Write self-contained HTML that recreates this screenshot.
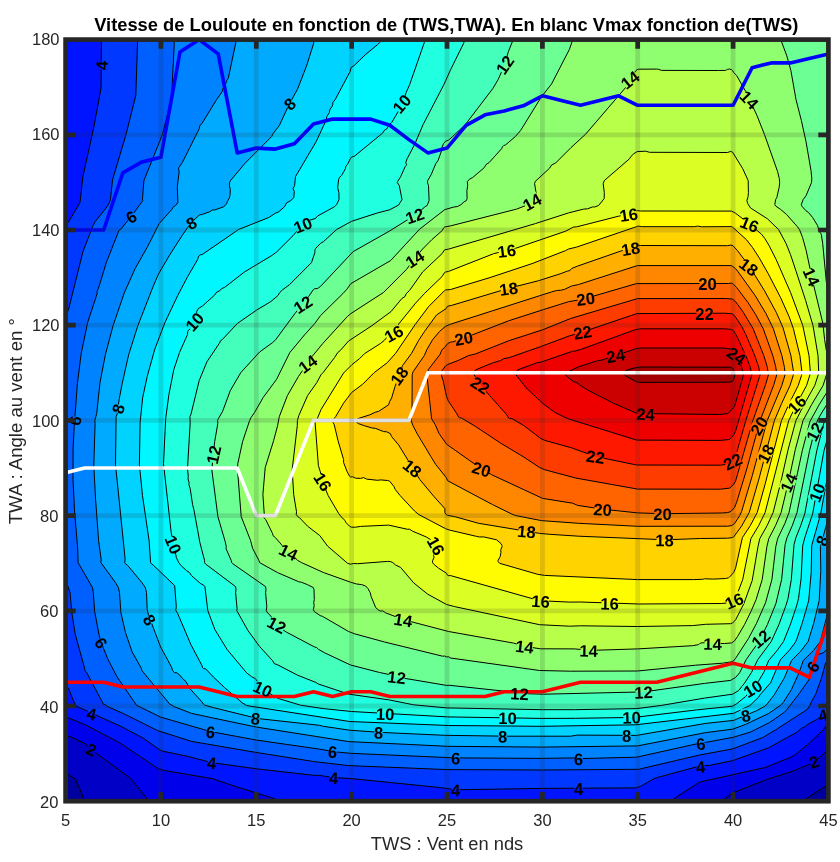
<!DOCTYPE html><html><head><meta charset="utf-8"><style>html,body{margin:0;padding:0;background:#fff}svg{display:block;will-change:transform}text{font-family:"Liberation Sans",Arial,sans-serif}</style></head><body>
<svg width="840" height="862" viewBox="0 0 840 862">
<defs><clipPath id="c"><rect x="65.6" y="39.6" width="762.8" height="761.6"/></clipPath>
<mask id="m" maskUnits="userSpaceOnUse" x="0" y="0" width="840" height="862"><rect width="840" height="862" fill="#fff"/><g fill="#000"><rect x="-4" y="-7" width="8.1" height="13.9" transform="translate(101.3 65.6) rotate(-89.7)"/><rect x="-4" y="-7" width="8.1" height="13.9" transform="translate(289.5 103.6) rotate(-43.2)"/><rect x="-8.1" y="-7" width="16.2" height="13.9" transform="translate(401.5 103.6) rotate(-49.2)"/><rect x="-8.1" y="-7" width="16.2" height="13.9" transform="translate(504.6 64.5) rotate(-54.7)"/><rect x="-8.1" y="-7" width="16.2" height="13.9" transform="translate(629.9 79.6) rotate(-38.2)"/><rect x="-8.1" y="-7" width="16.2" height="13.9" transform="translate(749.6 99.5) rotate(46.3)"/><rect x="-4" y="-7" width="8.1" height="13.9" transform="translate(131.1 216.6) rotate(-32.1)"/><rect x="-4" y="-7" width="8.1" height="13.9" transform="translate(191.2 222.6) rotate(-29.1)"/><rect x="-8.1" y="-7" width="16.2" height="13.9" transform="translate(302.6 224.7) rotate(-22)"/><rect x="-8.1" y="-7" width="16.2" height="13.9" transform="translate(414.6 215.4) rotate(-19.1)"/><rect x="-8.1" y="-7" width="16.2" height="13.9" transform="translate(531.8 201.6) rotate(-28.4)"/><rect x="-8.1" y="-7" width="16.2" height="13.9" transform="translate(628.6 214.3) rotate(-8.4)"/><rect x="-8.1" y="-7" width="16.2" height="13.9" transform="translate(749.6 223.9) rotate(21.7)"/><rect x="-8.1" y="-7" width="16.2" height="13.9" transform="translate(414.6 258.6) rotate(-32.8)"/><rect x="-8.1" y="-7" width="16.2" height="13.9" transform="translate(506.6 250.4) rotate(-7.1)"/><rect x="-8.1" y="-7" width="16.2" height="13.9" transform="translate(630.6 248.4) rotate(-9.7)"/><rect x="-8.1" y="-7" width="16.2" height="13.9" transform="translate(749.1 266.6) rotate(36.3)"/><rect x="-8.1" y="-7" width="16.2" height="13.9" transform="translate(707.6 283.3) rotate(0)"/><rect x="-8.1" y="-7" width="16.2" height="13.9" transform="translate(811.8 276.6) rotate(66.1)"/><rect x="-8.1" y="-7" width="16.2" height="13.9" transform="translate(508.6 288.3) rotate(-7.9)"/><rect x="-8.1" y="-7" width="16.2" height="13.9" transform="translate(585.6 298.5) rotate(-7.4)"/><rect x="-8.1" y="-7" width="16.2" height="13.9" transform="translate(704.6 313.2) rotate(-0)"/><rect x="-8.1" y="-7" width="16.2" height="13.9" transform="translate(194.2 321.6) rotate(-48.6)"/><rect x="-8.1" y="-7" width="16.2" height="13.9" transform="translate(302.6 304.1) rotate(-32.2)"/><rect x="-8.1" y="-7" width="16.2" height="13.9" transform="translate(393.6 333.3) rotate(-28.9)"/><rect x="-8.1" y="-7" width="16.2" height="13.9" transform="translate(463.6 338) rotate(-10.1)"/><rect x="-8.1" y="-7" width="16.2" height="13.9" transform="translate(582.6 332) rotate(-8.9)"/><rect x="-8.1" y="-7" width="16.2" height="13.9" transform="translate(615.6 355.3) rotate(-9.4)"/><rect x="-8.1" y="-7" width="16.2" height="13.9" transform="translate(736.7 355.6) rotate(35.2)"/><rect x="-8.1" y="-7" width="16.2" height="13.9" transform="translate(307.4 363.6) rotate(-35.8)"/><rect x="-8.1" y="-7" width="16.2" height="13.9" transform="translate(398.9 375.6) rotate(-53.9)"/><rect x="-8.1" y="-7" width="16.2" height="13.9" transform="translate(480.6 384.9) rotate(33.2)"/><rect x="-4" y="-7" width="8.1" height="13.9" transform="translate(117.8 408.6) rotate(-72.5)"/><rect x="-8.1" y="-7" width="16.2" height="13.9" transform="translate(796.6 404.1) rotate(-44.5)"/><rect x="-8.1" y="-7" width="16.2" height="13.9" transform="translate(758.7 425.6) rotate(-59.2)"/><rect x="-4" y="-7" width="8.1" height="13.9" transform="translate(74.7 420.6) rotate(-80.6)"/><rect x="-8.1" y="-7" width="16.2" height="13.9" transform="translate(645.6 413.8) rotate(2.1)"/><rect x="-8.1" y="-7" width="16.2" height="13.9" transform="translate(213.3 454.6) rotate(-77.4)"/><rect x="-8.1" y="-7" width="16.2" height="13.9" transform="translate(412.6 468) rotate(39.1)"/><rect x="-8.1" y="-7" width="16.2" height="13.9" transform="translate(323.2 481.6) rotate(57.4)"/><rect x="-8.1" y="-7" width="16.2" height="13.9" transform="translate(595.6 456.5) rotate(7.9)"/><rect x="-8.1" y="-7" width="16.2" height="13.9" transform="translate(481.6 469) rotate(17.5)"/><rect x="-8.1" y="-7" width="16.2" height="13.9" transform="translate(732.6 461.1) rotate(-25.7)"/><rect x="-8.1" y="-7" width="16.2" height="13.9" transform="translate(765.5 453.6) rotate(-62.7)"/><rect x="-8.1" y="-7" width="16.2" height="13.9" transform="translate(814.4 431.6) rotate(-62.4)"/><rect x="-8.1" y="-7" width="16.2" height="13.9" transform="translate(788.3 482.6) rotate(-65.6)"/><rect x="-8.1" y="-7" width="16.2" height="13.9" transform="translate(816.8 492.6) rotate(-69.8)"/><rect x="-8.1" y="-7" width="16.2" height="13.9" transform="translate(173.7 544.6) rotate(67.3)"/><rect x="-8.1" y="-7" width="16.2" height="13.9" transform="translate(288.6 551.7) rotate(26.1)"/><rect x="-8.1" y="-7" width="16.2" height="13.9" transform="translate(436.4 545.6) rotate(60.5)"/><rect x="-8.1" y="-7" width="16.2" height="13.9" transform="translate(602.6 509.2) rotate(3.8)"/><rect x="-8.1" y="-7" width="16.2" height="13.9" transform="translate(662.6 513.7) rotate(0.2)"/><rect x="-8.1" y="-7" width="16.2" height="13.9" transform="translate(526.6 531.2) rotate(4.8)"/><rect x="-8.1" y="-7" width="16.2" height="13.9" transform="translate(664.6 539.8) rotate(0.3)"/><rect x="-4" y="-7" width="8.1" height="13.9" transform="translate(821.8 540.6) rotate(-64)"/><rect x="-4" y="-7" width="8.1" height="13.9" transform="translate(150 619.6) rotate(55.2)"/><rect x="-8.1" y="-7" width="16.2" height="13.9" transform="translate(276.9 624.6) rotate(27.5)"/><rect x="-8.1" y="-7" width="16.2" height="13.9" transform="translate(403.2 619.6) rotate(9.1)"/><rect x="-8.1" y="-7" width="16.2" height="13.9" transform="translate(540.6 600.9) rotate(3.8)"/><rect x="-8.1" y="-7" width="16.2" height="13.9" transform="translate(609.6 603.2) rotate(1)"/><rect x="-8.1" y="-7" width="16.2" height="13.9" transform="translate(733.9 600.6) rotate(-23.1)"/><rect x="-4" y="-7" width="8.1" height="13.9" transform="translate(101.3 642.6) rotate(55.6)"/><rect x="-8.1" y="-7" width="16.2" height="13.9" transform="translate(524.6 646.4) rotate(6.5)"/><rect x="-8.1" y="-7" width="16.2" height="13.9" transform="translate(588.6 650.3) rotate(1.1)"/><rect x="-8.1" y="-7" width="16.2" height="13.9" transform="translate(712.6 643.5) rotate(0.8)"/><rect x="-8.1" y="-7" width="16.2" height="13.9" transform="translate(760.5 638.6) rotate(-41.5)"/><rect x="-8.1" y="-7" width="16.2" height="13.9" transform="translate(396.6 676.9) rotate(6.4)"/><rect x="-8.1" y="-7" width="16.2" height="13.9" transform="translate(519.6 693.4) rotate(2.7)"/><rect x="-8.1" y="-7" width="16.2" height="13.9" transform="translate(643.6 691.9) rotate(-2.2)"/><rect x="-8.1" y="-7" width="16.2" height="13.9" transform="translate(262.9 688.6) rotate(25.6)"/><rect x="-8.1" y="-7" width="16.2" height="13.9" transform="translate(752.6 688.2) rotate(-31.5)"/><rect x="-4" y="-7" width="8.1" height="13.9" transform="translate(812.6 666.5) rotate(-59)"/><rect x="-8.1" y="-7" width="16.2" height="13.9" transform="translate(385.2 713.6) rotate(1.7)"/><rect x="-8.1" y="-7" width="16.2" height="13.9" transform="translate(507.6 717.7) rotate(0.5)"/><rect x="-8.1" y="-7" width="16.2" height="13.9" transform="translate(631.6 717.2) rotate(-1.6)"/><rect x="-4" y="-7" width="8.1" height="13.9" transform="translate(255.6 718) rotate(6.1)"/><rect x="-4" y="-7" width="8.1" height="13.9" transform="translate(378.6 732.3) rotate(1.8)"/><rect x="-4" y="-7" width="8.1" height="13.9" transform="translate(502.6 736.2) rotate(0.3)"/><rect x="-4" y="-7" width="8.1" height="13.9" transform="translate(626.6 735.4) rotate(-0)"/><rect x="-4" y="-7" width="8.1" height="13.9" transform="translate(745.6 715.3) rotate(-12)"/><rect x="-4" y="-7" width="8.1" height="13.9" transform="translate(91.6 713.4) rotate(12.8)"/><rect x="-4" y="-7" width="8.1" height="13.9" transform="translate(210.5 731.6) rotate(6.8)"/><rect x="-4" y="-7" width="8.1" height="13.9" transform="translate(332.6 751.5) rotate(4.4)"/><rect x="-4" y="-7" width="8.1" height="13.9" transform="translate(455.6 757.9) rotate(0.5)"/><rect x="-4" y="-7" width="8.1" height="13.9" transform="translate(578.6 758.6) rotate(1.1)"/><rect x="-4" y="-7" width="8.1" height="13.9" transform="translate(700.6 743.3) rotate(-5.6)"/><rect x="-4" y="-7" width="8.1" height="13.9" transform="translate(822.6 714.9) rotate(-15.7)"/><rect x="-4" y="-7" width="8.1" height="13.9" transform="translate(91.6 749.1) rotate(23.1)"/><rect x="-4" y="-7" width="8.1" height="13.9" transform="translate(211.6 762.6) rotate(5.5)"/><rect x="-4" y="-7" width="8.1" height="13.9" transform="translate(333.6 777.5) rotate(2.9)"/><rect x="-4" y="-7" width="8.1" height="13.9" transform="translate(455.6 789.8) rotate(2.1)"/><rect x="-4" y="-7" width="8.1" height="13.9" transform="translate(578.6 788.4) rotate(-0)"/><rect x="-4" y="-7" width="8.1" height="13.9" transform="translate(700.6 766.4) rotate(-5)"/><rect x="-4" y="-7" width="8.1" height="13.9" transform="translate(813.9 761.6) rotate(-18.1)"/></g></mask></defs>
<rect width="840" height="862" fill="#fff"/>
<g clip-path="url(#c)">
<g stroke="none">
<path fill="#00009f" fill-rule="evenodd" d="M62.599999999999994 36.6 H831.4 V804.2 H62.599999999999994Z"/>
<path fill="#0000c7" fill-rule="evenodd" d="M64.6 38.6 828.6 38.6 828.6 785.6 824.6 786.8 809.2 796.6 805.6 799.4 805.2 801.6 83.9 801.6 83.6 798.6 82.2 794.6 75.6 779.3 68.1 774.6 64.6 774.6Z"/>
<path fill="#0000eb" fill-rule="evenodd" d="M64.6 38.6 828.6 38.6 828.6 751.2 825.6 752 816.6 760 811.6 763.4 792.6 771.2 766.4 779.6 733.3 792.6 724.6 798.6 723.6 799.6 723.4 801.6 147.4 801.6 147.2 799.6 146.2 797.6 130.8 778.6 97.6 754.2 85 743.6 69.9 736.6 67.6 735.9 64.6 735.8Z"/>
<path fill="#0014ff" fill-rule="evenodd" d="M64.6 38.6 828.6 38.6 828.6 726.1 825.6 726.4 823.6 729.4 808.6 743.9 794.6 755 790.6 757.3 765.6 767.4 699.6 782.1 674 798.6 673.1 799.6 672.7 801.6 277 801.6 276.2 799.6 271.4 797.6 237.6 787.2 212.2 778.6 163.6 770.4 160.6 769.1 158.6 769 119.4 742.6 84.9 724.6 68.6 718 64.6 717.5Z"/>
<path fill="#0038ff" fill-rule="evenodd" d="M101.4 38.6 828.6 38.6 828.6 712.7 826.6 713 822.6 714.9 816.7 719.6 807.6 724.4 804.6 726.9 802.4 727.6 796.2 732.6 768.6 747.8 732.6 760.6 709.6 765.4 702.6 765.6 700.6 766.4 698.6 766.3 656.6 777.7 653.6 778.9 640.6 786.3 635.6 787.9 541.6 788.4 456.6 789.8 442.6 787.8 351.6 778.6 332.6 777.4 322.6 775.9 320.6 775.2 314.6 775.4 294.6 773.2 257.6 769 210.6 762.4 187.6 756.3 160.9 750.6 143.9 738.6 121.6 726.7 85.4 710.6 75.8 705.6 68.6 688.5 66.6 686.4 64.6 686.5 64.6 224 66.9 223.6 68.6 221.8 80 202.6 82.9 176.6 93.6 128.4 101.1 87.6Z"/>
<path fill="#0060ff" fill-rule="evenodd" d="M136 38.6 828.6 38.6 828.6 662.2 825.6 662.9 821.3 678.6 815.6 694.4 811.4 701.6 809.9 705.6 807 709.6 775.6 729.9 762.6 737.6 734.6 748.2 699.6 755 637.6 769.5 541.6 770 448.6 769.6 347.6 765.5 313.6 761.5 254.6 752.2 191.6 741.4 157.6 730.6 124.6 714.1 107.7 706.6 104.9 704.6 103.6 704.4 86.7 672.6 84.9 670.6 84.7 668.6 75.1 633.6 71.7 611.6 70.1 592.6 67.6 585.6 66.6 584.7 64.6 584.7 64.6 313.5 67.2 312.6 68.6 309.4 83 251.6 92.6 226.6 95.2 221.6 107.2 206.6 109.4 202.6 110.4 199.6 112.6 179.6 126 134.6 135.8 95.6 137.6 41.6 137.6 40.6Z"/>
<path fill="#0083ff" fill-rule="evenodd" d="M174.1 38.6 828.6 38.6 828.6 647.5 823.6 652.6 817.6 654.8 812.6 666.5 809.6 678.8 799.2 693.6 785.2 711.6 769.6 722.5 752.6 731.1 746.6 733.2 732.6 737.4 706.6 742.2 703.6 742.3 637.6 757.1 579.6 758.6 573.6 757.9 541.6 758.4 456.6 757.9 348.6 753.2 333.6 751.7 318.6 749 256.6 740.1 210.5 731.6 162.6 717.8 157.1 715.6 135.8 704.6 121.3 683.6 115.8 674.6 108.5 660.6 103.6 648.6 99.2 635.6 94.9 612.6 93.2 591.6 92.5 587.6 78.1 562.6 77.7 548.6 74.6 511.9 73 479.6 73.1 448.6 74.2 426.6 77.4 383.6 81.2 353.6 87.6 322.6 96.2 296.6 97.1 293.6 97 291.6 99 286.6 106.3 262.6 118.9 230.6 121.3 228.6 131.9 215.6 142.8 200.6 142.5 198.6 143.9 180.6 162.4 134.6 171.5 98.6 174.2 45.6Z"/>
<path fill="#00abff" fill-rule="evenodd" d="M236.5 39.6 236.7 38.6 828.6 38.6 828.6 609.4 820.3 641.6 813.4 650.6 803.2 660.6 799.1 672.6 791.4 689.6 783.6 702.1 781.4 704.6 768.6 713.5 745.6 724.4 732.6 729.2 705.6 732.6 637.6 745.9 541.6 747.1 447.6 746.3 348.6 741.6 252.6 726.3 191.6 713.4 174.2 706.6 170.6 704.7 168.6 702.9 153.2 684.6 144.1 672.6 141.9 670.6 141.5 668.6 131.6 650.8 125.5 632.6 120.9 612.6 119.5 592.6 118.4 587.6 115.5 582.6 100.9 562.6 101.2 559.6 98.6 540.6 95.6 499.5 93.8 465.6 95.1 423.6 94.8 420.6 96.7 413.6 100 382.6 105.4 354.6 113.1 325.6 124.4 292.6 135.1 268.6 147.6 246.6 159.2 223.6 171.7 209.6 173.6 206.6 175.6 205.5 177.9 202.6 177.3 186.6 179.2 171.6 178.6 169.6 178.8 167.6 182.3 162.6 199.3 128.6 199.8 125.6 201.9 123.6 216.6 99.6 222.3 91.6 222.5 89.6 226.7 81.6 226.6 80.6 228.2 78.6Z"/>
<path fill="#00d3ff" fill-rule="evenodd" d="M314.1 38.6 828.6 38.6 828.6 516.9 820.4 546.6 820.8 570.6 819.2 600.6 814.1 621.6 808.8 639.6 807.5 642.6 801.3 650.6 791.5 660.6 785 676.6 776.9 690.6 769.5 701.6 764.2 706.6 748.6 714.4 733.6 720.4 705.6 723.4 637.6 735.4 577.6 735.1 570.6 736.2 502.6 736.2 444.6 735.3 379.6 732.4 348.6 730.1 322.6 726.2 319.6 725.3 257.6 718.5 209.5 706.6 204.6 705.1 203.6 704.3 201.7 701.6 189.6 688.3 187.4 683.6 185.6 681.2 182.6 678.6 179.6 674.9 176.6 672.7 174.6 672.7 173.3 671.6 171.3 666.6 160.9 647.6 149.6 618.4 147.3 610.6 146.5 592.6 145.3 587.6 141.9 582.6 127.6 565.3 125.6 563.9 124.8 562.6 125.1 558.6 115.5 463.6 116.1 416.6 117 414.6 119.4 397.6 125.6 368.3 128.7 354.6 137.9 325.6 152.7 287.6 158.7 273.6 169.6 255.1 182.6 234.8 191.2 222.6 199.6 214.8 201.6 214.6 209.6 211.8 212.6 209.9 214.6 210 223.6 206.8 226.9 203.6 227.2 201.6 229.1 198.6 230 195.6 230.3 189.6 229.4 185.6 229.6 182.6 230.5 180.6 244.7 163.6 271.6 136.6 273.1 133.6 279.3 125.6 289 104.6 297.6 89 306.6 65.8 313.6 43.6Z"/>
<path fill="#00f7ff" fill-rule="evenodd" d="M381.6 38.6 828.6 38.6 828.6 470.8 820.5 514.6 811.7 545.6 811.2 571.6 808.8 599.6 800.2 629.6 795.2 642.6 788.3 651.6 779.9 660.6 770.6 682.8 760.2 694.6 758.2 697.6 751.1 704.6 748.6 706.3 732.6 713.6 636.6 724.7 541.6 726.3 448.6 725.5 349.6 721.5 246.8 705.6 243.3 703.6 235.9 697.6 220.6 684 205.6 668.8 203.6 668.6 202.6 667.6 202 665.6 190.9 644.6 177.3 612.6 175.8 610.6 176.3 606.6 174.7 585.6 153.6 565.4 151.6 564 150.6 562.6 149.1 540.6 142.5 495.6 139.4 464.6 140.1 422.6 142.7 397.6 147.2 376.6 154.6 349.8 164.9 322.6 177.7 295.6 187.6 276.7 197.6 259.6 198.6 256.3 200.6 254.8 202.6 254.3 238.6 229.5 268.6 217.6 275.6 213.1 278.6 211.9 284.7 206.6 286.6 202.8 290.6 200.8 293.8 197.6 294.3 191.6 293.1 188.6 294.6 185.6 295.5 176.6 316.2 141.6 326.4 119.6 326.8 116.6 329.4 112.6 329.8 109.6 332 106.6 332.8 104.6 332.8 102.6 335.2 99.6 350.1 71.6 351.1 67.6 354.1 65.6 365.6 54.5 377.6 44.6 380.7 41.6Z"/>
<path fill="#20ffdf" fill-rule="evenodd" d="M425 38.6 828.6 38.6 828.6 434.4 824 450.6 812.7 513.6 804.8 537.6 802.7 545.6 801.1 578.6 798.5 598.6 796.6 605.8 790.7 623.6 783.5 641.6 777 650.6 768.6 660.6 764.2 671.6 758.3 681.6 745.5 696.6 736.6 703.8 732.6 706.2 696.6 709.9 638.6 716.9 622.6 717.6 542.6 718.4 447.6 716.9 385.2 713.6 342.2 710.6 323.4 708.6 297.6 704.6 275.6 697.2 264 689.6 255.3 678.6 251.6 676.7 245.6 671.7 227.9 650.6 214.9 629.6 208.8 613.6 207.7 609.6 204.9 586.6 203.6 585.1 200.6 583.6 191.5 575.6 189.6 572.6 186.6 570.7 181.1 565.6 178.6 562.3 176.7 558.6 171.2 532.6 163.6 465.6 165.6 419.6 168.9 394.6 173.8 369.6 179.6 352.3 187.5 334.6 187.7 331.6 188.6 330.1 190.6 328.6 195.5 318.6 197 310.6 198.6 308.3 202.6 305.9 214.6 295.1 216.6 292.2 219.6 290.9 221.6 288.6 224.6 287.4 245.1 271.6 272.6 255 276.6 252 293.1 235.6 302.6 224.7 306.6 221 307.6 220.3 309.6 220.3 315.6 218.4 317.6 216 325.6 211.9 335.8 205.6 339 199.6 338.9 192.6 337.7 187.6 338.6 179.6 339.6 177.3 341.6 175.5 345.5 168.6 345.7 166.6 347.4 164.6 350.4 158.6 351.6 157.1 354.6 156.1 382.6 133.1 384.6 130.1 386.6 129.1 389.6 124.4 391.7 122.6 400.6 107.5 401.5 105.6 401.5 103.6 403 101.6 406.1 92.6 409.6 84.8 424.3 42.6Z"/>
<path fill="#44ffbb" fill-rule="evenodd" d="M464.3 38.6 828.6 38.6 828.6 414.4 826.6 416.9 824.2 421.6 816.8 450.6 804.8 513.6 800.7 525.6 795.9 537.6 794 544.6 791.3 579.6 788 598.6 785.9 605.6 778.9 624.6 771.2 641.6 757.8 659.6 751.4 672.6 744.2 683.6 738.6 690.6 732.6 694.2 704.6 698.1 661.6 705.4 637.6 708.6 574.6 709.7 543.6 709.7 446.6 707.9 413.6 704.8 388.6 699.8 348.6 694.1 318.6 684.1 315.6 682.3 297.6 675.2 277.6 664.8 274.6 663.8 272.6 660.7 259.6 646.5 248.7 631.6 237.3 611.6 236.8 610.6 237.1 608.6 235.6 592.6 236 589.6 235.6 586.6 205.6 564 204.6 562.6 204.6 560.6 199.9 542.6 193.9 509.6 192.6 504.6 190.2 488.6 188.9 484.6 189 481.6 188 478.6 188.3 476.6 187.5 467.6 190.2 422.6 189.9 416.6 190.9 414.6 199.5 379.6 206.6 362.4 219.2 343.6 219.8 341.6 222.3 339.6 236 324.6 255.8 310.6 273.6 299.5 277.9 295.6 278.9 293.6 281.8 290.6 289.6 284.6 310.7 263.6 312.8 259.6 314.9 252.6 314.8 250.6 316.2 247.6 320.6 243.3 323.5 241.6 335.6 230.2 352.6 220.8 377.6 212.9 389.6 209.8 398.6 205.1 402 199.6 399.3 185.6 397.3 182.6 397.6 181.6 400.6 176.8 405.2 166.6 406.2 165.6 406.6 164.6 405.7 162.6 407.2 158.6 414.6 144.5 423.1 124.6 443.9 84.6 450.6 69.7 463.5 43.6 464.6 40.6Z"/>
<path fill="#6cff93" fill-rule="evenodd" d="M512.3 38.6 828.6 38.6 828.6 402.6 826.6 404.9 821.6 413 817.8 419.6 816.7 422.6 809.6 450.6 797 512.6 792.3 525.6 787 537.6 785.1 544.6 781.6 579.6 775.9 603.6 767.4 624.6 758.9 641.6 746.2 659.6 739.6 672.8 735.6 677.4 730.6 680.4 704.6 683.4 643.6 691.9 542.6 694.3 522.6 693.6 503.6 691.1 440.7 684.6 401.6 677.5 395.6 676.8 391.6 675 352.6 665.7 348.6 664.2 324.2 652.6 318.6 649.4 316.6 647.5 314.6 647 285.5 631.6 278.8 626.6 272.6 619.2 269.6 614.6 267.6 613 266.3 610.6 266.8 606.6 265.6 592.6 266 589.6 265.6 586.6 232.6 563.6 231.7 562.6 231.3 560.6 226 548.6 226.3 546.6 225.2 541.6 217.7 515.6 211.8 468.6 214.7 441.6 217.8 423.6 217.6 420.6 222.5 411.6 231.4 388.6 241.5 371.6 259.6 352 272.6 342.6 275.6 339.8 294.9 313.6 308.6 296.6 312.4 290.6 314.6 288.8 317.6 288.5 320.6 286.3 351.6 252.9 355.6 250.1 389.6 231 414.3 215.6 422 209.6 424.6 206.9 427.1 205.6 429.1 200.6 428.5 185.6 427.5 182.6 427.7 180.6 431.2 174.6 435.8 163.6 438 160.6 442 149.6 441.9 147.6 443.5 143.6 445.6 141.2 448.6 140.1 452.6 136.6 465.3 124.6 492.8 88.6 498.1 79.6 503.9 66.6 508.4 51.6 512.4 41.6Z"/>
<path fill="#8fff70" fill-rule="evenodd" d="M571.7 38.6 781 38.6 781.1 40.6 786.1 53.6 790.2 67.6 793.1 81.6 796 99.6 801.6 121.6 806.6 144.6 810.5 166.6 811.7 176.6 811.2 183.6 806.1 195.6 803.1 199.6 801.3 204.6 802.2 206.6 805.8 210.6 808.6 212.6 812.7 217.6 817.6 225.6 819.1 231.6 820.6 233.1 821.3 234.6 822.7 243.6 826.4 282.6 828.6 292.9 828.6 390.5 826.6 392.8 819.2 404.6 809.9 421.6 802.3 450.6 789 512.6 784.8 523.6 778.1 537.6 777.2 540.6 775.8 546.6 771.9 579.6 765.6 602.6 756.4 623.6 748.4 638.6 735.6 658.3 733.6 660.6 731.6 661.8 722.6 663.2 695.6 665.2 637.6 671 571.6 671.2 540.6 670.6 450.6 658 448.6 656.8 446.6 656.9 444.6 656 442.6 656.2 393.6 644.2 354.6 633.8 348.6 631.5 322.6 616.4 320.2 615.6 314.3 611.6 313.6 610.6 313.4 608.6 314.2 605.6 313.7 602.6 314.2 600.6 314 589.6 313.6 588.1 312.6 587.1 301.6 582.3 298.6 581.7 277.6 572.6 259.6 562.6 259 560.6 252.7 548.6 250.6 540.6 241.4 517.6 237.4 466.6 242.9 440.6 249.6 420.6 251 417.6 254.5 412.6 263.1 397.6 276.6 379.3 289.6 353 303.9 335.6 314.7 323.6 320.5 315.6 342.9 293.6 346.6 289.6 350.9 283.6 390.6 260.6 419.6 229.2 444.8 209.6 453.6 207.1 457.6 206.5 461.6 204.3 463.6 202.1 466.4 200.6 467.1 198.6 466.9 190.6 467.7 185.6 467.3 181.6 469.6 179.1 472.6 177.6 484.3 167.6 486 164.6 489.1 162.6 501.7 148.6 502.6 146.6 503.6 145.6 505.6 144.9 515.3 136.6 520.6 130.5 540.3 98.6 540.6 96.6 543.6 94.1 551.6 83.9 569.3 49.6 572.1 41.6Z"/>
<path fill="#b7ff48" fill-rule="evenodd" d="M637.2 69.6 638.6 69.2 656.6 69.1 658.6 69.3 661.6 70.4 718.6 70.5 725.6 70.4 727.6 69.3 729.6 69.1 731.6 69.7 732.6 70.6 733.6 72.5 736.6 75.5 745.8 91.6 757 115.6 764.5 134.6 777.6 171.6 779.3 178.6 779.7 182.6 779.1 187.6 776.8 197.6 775.6 199.6 774.8 204.6 775.6 206 780.6 209.4 786.7 214.6 797.3 226.6 799.6 229.8 802.6 237.6 806.2 250.6 813 282.6 822.9 323.6 824.6 339.6 827 354.6 826.9 373.6 823 385.6 811.6 404.6 803 420.6 795.3 449.6 788.3 482.6 781.1 512.6 775.5 525.6 768.8 538.6 766.9 546.6 762.2 579.6 756.1 599.6 750.9 611.6 744.5 624.6 737.6 636.4 734.6 640.8 731.6 642.9 724.6 643.5 712.6 643.5 708.6 642.8 701.6 642.8 699.6 643.6 698.6 644.6 692.6 645.7 637.6 648.9 590.6 650.4 574.6 648.9 540.6 648.8 525.6 646.6 513.6 643.1 448.6 631.5 403.2 619.6 385.6 612.8 382.6 610.8 380.6 611.1 378.6 610.1 375.7 607.6 371.2 596.6 370.2 592.6 368 588.6 365.6 586 361.6 584.6 356.6 584 350.6 582.2 323.7 572.6 301.5 562.6 297.6 560.3 283.2 546.6 275.4 537.6 273 535.6 272.6 533.6 265.7 519.6 263.9 517.6 264.3 514.6 262.9 494.6 265.2 467.6 273.6 440.7 277.6 425.6 279.3 416.6 287.4 395.6 298.4 376.6 311.2 357.6 322.6 343.7 347.3 316.6 350.8 313.6 383.6 292.4 406.6 269.3 415.3 257.6 422.6 249 431.9 239.6 442.2 230.6 443.8 227.6 444.6 227 450.6 225.9 516.6 209.1 525.6 205.6 531.1 202.6 536.2 193.6 534.6 183.6 535.1 181.6 549.6 168.2 551.6 165 555.6 163 571 147.6 585.6 134.2 625.6 87.6 627.8 82.6 635.9 70.6Z"/>
<path fill="#dbff24" fill-rule="evenodd" d="M637.1 151.6 645.6 151.2 649.6 152.3 727.6 152.5 730.6 151.4 732.6 152.2 742.7 168.6 748.2 180.6 748.4 192.6 748.1 196.6 746.9 200.6 747.7 203.6 750.6 208 767.6 218.9 778.6 229.6 786.1 243.6 790.5 254.6 796.2 271.6 805.6 300.4 813 325.6 818 355.6 818.7 371.6 818.3 374.6 814.7 385.6 804 404.6 795.9 420.6 788.1 449.6 780.7 482.6 773.1 512.6 767.1 525.6 759.8 538.6 758 546.6 752.2 580.6 743.9 603.6 735.6 619.8 732.6 623 730.6 623.7 705.6 624.3 692.6 625.6 637.6 626.5 580.6 625.8 569.6 626.2 539.6 624.7 454.6 606.6 446.6 604.5 427.6 594.1 413.6 582.8 400.6 567.4 395.6 565 392.8 562.6 390.6 561.6 387.6 561.4 357.6 563.7 353.6 563.5 350.6 564.2 347.6 563.3 327.6 546.1 319.8 535.6 307.6 526.2 299.4 517.6 297.6 516.5 296.3 514.6 296.5 511.6 293.7 494.6 292.2 469.6 297.3 425.6 297.4 420.6 298.8 415.6 307.6 395.6 316.8 382.6 321.1 374.6 323.1 372.6 334.6 357.5 337.6 352.7 340.2 350.6 348.6 341 372 325.6 391 311.6 401.8 298.6 404.9 296.6 406.3 293.6 409.6 290.4 422.6 272 442.1 253.6 444.6 249.8 448.6 249.1 535.4 223.6 568.6 212.9 583.6 209.1 587.6 208.8 592.6 206.9 594.6 207 598.6 205.5 604.2 198.6 604.3 192.6 603.2 183.6 604.3 180.6 629.6 158.7 630.8 156.6 633.6 153.9Z"/>
<path fill="#fffb00" fill-rule="evenodd" d="M637.5 210.6 640.6 211 731.6 211.1 735.6 213.3 749.6 223.9 761.6 234.3 764.9 238.6 769.1 245.6 776.2 259.6 790.6 292.6 802.8 325.6 809 355.6 810.3 371.6 810 374.6 806.5 385.6 796.6 404.1 788.7 420.6 765.1 512.6 758.7 525.6 750.9 538.6 742.7 579.6 736.6 595.7 733.6 601.2 731.4 602.6 721.6 603.5 638.6 604 580.6 602 569.6 602.1 539.6 600.7 450.6 575.6 448.3 575.6 447 574.6 446.6 573.3 438.6 568.2 433.6 564.1 432.6 562.6 432.6 560.6 434 557.6 433.6 554.6 436.4 547.6 436.3 543.6 435.6 542.8 426.6 537.1 412.6 531.2 409.6 529.2 407.6 529.3 388.6 525.1 360.6 526.4 355.6 527.2 351.6 527.2 349.6 526.3 346 522.6 345.1 520.6 341 516.6 338.6 513.4 328.2 495.6 326.1 490.6 318.4 465.6 315.1 422.6 316.5 420.6 321 409.6 343.6 373 352 364.6 359.6 358.6 364.6 353.6 380.3 343.6 384.1 340.6 386.7 337.6 389.6 336.9 392.6 334.3 394.7 331.6 395.8 327.6 415.6 303.1 424.6 293.4 442 276.6 444.5 272.6 445.6 272 448.6 271.4 493.6 253.7 515.6 248.3 565.6 231.2 573.6 227 576.6 226.9 618.6 216.2 628.6 214.3Z"/>
<path fill="#ffd300" fill-rule="evenodd" d="M636.7 226.6 638.6 226.1 641.6 226.7 694.6 226.7 697.6 226.1 701.6 226.8 731.6 226.6 732.6 227.2 746.4 239.6 752.6 247.6 759.1 257.6 768.2 273.6 780.6 297.6 789.1 316.6 793.4 328.6 799.9 355.6 801.9 371.6 801.5 375.6 798.2 385.6 789.2 403.6 781.5 420.6 765 484.6 757.2 512.6 750.3 525.6 742.4 537.6 735.6 568.1 733.6 572.6 729.6 577 728.6 577.8 725.6 578.5 713.6 579.1 704.6 578.8 702.6 579.3 693.6 579.6 637.6 579.6 544.6 575.4 537.6 574.3 499.6 563.3 498.1 561.6 498 560.6 500.2 556.6 500.9 552.6 500.8 549.6 502.1 546.6 502 545.6 501 543.6 496.6 539.8 483.6 536.9 479.6 537 476.6 536.4 449.6 530.1 445.6 528.7 418.8 514.6 414.6 511.1 400.2 495.6 395.3 489.6 394 486.6 389.6 481.1 387.6 480.5 380.6 479.9 377.6 480.3 366.6 479.1 363.6 477.6 360.6 478.4 355.6 478.2 352.6 476.8 350.6 477 349.6 476.3 347.1 471.6 343.6 462.6 343.6 459.6 338 440.6 334.2 424.6 333.1 422.6 334 418.6 335.6 416.7 343.6 403.1 351.6 392.5 362.6 384.3 374.2 372.6 387.4 362.6 395.6 353.3 415.1 324.6 428.6 306.6 444.6 290.6 445.6 289.9 450.6 289.5 489.9 277.6 532.1 263.6 565.6 250.6 568.6 249 576.6 247.1Z"/>
<path fill="#ffaf00" fill-rule="evenodd" d="M636.6 245.6 637.6 245.1 640.6 245.5 727.6 245.7 730.6 245.1 732.9 245.6 737.6 250.8 744.6 260 753.9 273.6 764.6 290.9 776.4 312.6 783 327.6 790.9 355.6 793.5 371.6 793.2 375.6 790 385.6 781.6 403.5 774.4 420.6 758.6 480.2 749.2 512.6 741.6 526.1 733.6 537 732.4 537.6 727.6 538.2 700.6 538.5 665.6 539.8 578.6 536.2 549.6 534.3 539.6 533.4 478.6 523.3 454.6 516.6 447.6 515.4 446.2 514.6 444.9 512.6 444.9 508.6 434 496.6 419.9 479.6 398.6 444.9 391.6 436.6 390.3 433.6 386.6 431.8 383.6 431.6 375.6 428.4 371.6 427.9 364.6 425.8 358.6 423.7 356.9 422.6 356.6 420.6 357.6 418.7 369.6 414.9 375.6 412.1 378.6 411.4 388.6 404.8 389.6 401.6 391.6 398 395 386.6 402.5 365.6 411.6 353.3 418.5 340.6 424.6 331.3 436.6 314.9 446.1 308.6 447.6 306.2 451.6 305.4 508.6 288.3 538.6 280.7 560.9 273.6 567.6 271 569.9 270.6 571.6 268.5 577.6 266.1 620.6 251.1 630.6 248.4Z"/>
<path fill="#ff8700" fill-rule="evenodd" d="M637.4 265.6 731.6 265.6 735.6 268.7 737.6 271.1 755.2 295.6 766 313.6 773.3 328.6 781.9 355.6 784.5 367.6 785.1 374.6 781.8 385.6 767.2 420.6 752.3 475.6 741.6 511.6 739.7 515.6 734.6 523.5 731.7 525.6 727.6 526.2 637.6 526.3 578.6 523.3 541.4 520.6 515.8 515.6 512.9 514.6 492.5 504.6 447.6 480.7 446.3 477.6 435.8 464.6 430.9 456.6 417.1 433.6 413 425.6 411.2 420.6 412 408.6 412.2 374.6 413.2 371.6 424.3 355.6 426.9 349.6 432.6 339.7 439.6 331.4 445.6 326.3 449.3 324.6 551.6 291.9 556.6 290.5 560.6 290.3 564.6 289.3 571.6 286 578.6 284.5Z"/>
<path fill="#ff6400" fill-rule="evenodd" d="M636.4 283.6 728.6 283.5 731.6 283.1 732.9 283.6 736.6 287.5 748 302.6 755.7 314.6 763.2 328.6 772.8 355.6 775.7 366.6 776.8 374.6 773.9 384.6 760.1 420.6 746.9 468.6 736.6 502.4 734.6 507.4 730.8 511.6 727.6 512.6 721.6 513 662.6 513.7 637.6 512.9 603.6 509.3 577.6 505.4 572.6 503.2 542.6 498.4 491.4 474.6 479.6 467.6 446.6 444.2 439.1 433.6 435.2 424.6 431.6 418.8 427.2 377.6 428.3 369.6 439.9 354.6 442.1 349.6 444.5 347.6 447.6 343.6 450.6 342.1 452.6 341.9 472.6 334.8 508.6 320.8 543.4 309.6 568.6 301.7 582.6 299.3Z"/>
<path fill="#ff3c00" fill-rule="evenodd" d="M637.5 298.6 725.6 298.5 732.6 299.1 735.6 301.7 742.6 311.2 753.1 328.6 763.8 355.6 767.2 366.6 768.5 374.6 765.6 384.6 752.9 420.6 735.6 481 733.6 484.5 729.6 488.1 720.6 489.2 637.6 489.1 575.6 478 544.6 469.7 539.6 467.5 523.1 456.6 500.6 443.1 475.6 426.5 461.6 418.1 459.6 417.8 458.6 417.2 456.8 413.6 448.1 400.6 446.6 396.6 443.1 380.6 441.5 375.6 442 370.6 445.6 365.9 447.6 364.5 458.6 360.3 468.5 355.6 475.6 353.9 508.6 340.8 542.6 329.8 570.6 318.5Z"/>
<path fill="#ff1800" fill-rule="evenodd" d="M636.9 313.6 724.6 313.2 730.6 313.6 732.6 314.1 734.6 315.7 741.3 325.6 745.4 333.6 754.6 355.1 758.6 366.6 760.2 374.6 745.8 420.6 735.6 456.3 733.6 460 729.6 463.9 720.6 465.2 636.6 465 595.6 456.5 570.8 447.6 544.6 440.3 540.6 438.4 524.6 426.1 512 418.6 509.6 418.6 508.6 418 506.6 414.6 481.7 386.6 477.5 380.6 476.7 377.6 474.6 376.1 473.9 372.6 475.6 369.9 491.6 363.3 500.6 360.5 503.6 358.7 509.6 357.5 540.7 346.6 569.6 335.8 580.6 332.6Z"/>
<path fill="#ef0000" fill-rule="evenodd" d="M635.5 329.6 640.6 328.8 724.6 328.8 731.6 329.4 733.6 330.8 736.6 335.7 745.8 355.6 750.1 366.6 751.9 374.6 735.6 431.1 733.6 435 730.6 438.5 728.6 439.6 720.6 440.4 636.6 440.1 568.6 418.9 563.2 416.6 554.6 412.2 543 403.6 525.9 387.6 515.8 374.6 515.8 372.6 517.6 369.9 536.6 362.9 542.6 361.6 572.6 351.2 574.6 351.2 580.6 349.5Z"/>
<path fill="#cb0000" fill-rule="evenodd" d="M636.2 348.6 640.6 348 723.6 348 731.6 349.1 734.6 351.9 736.6 355.3 741.5 366.6 743.6 374.6 734.6 406.3 728 413.6 719.6 414.5 638.6 413.5 634.6 412.4 613.6 403.3 589.6 391.1 579.6 385.1 577.6 382.8 575.6 382.6 571.6 380.3 565 374.6 564.9 373.6 565.6 372.9 578.6 366.8 596.6 360.9 600.6 360.4Z"/>
<path fill="#a30000" fill-rule="evenodd" d="M635.7 367.6 640.6 367 729.6 367.2 731.7 367.6 732.9 368.6 734 370.6 735 374.6 734 378.6 732.6 381.2 729.6 382.2 639.6 382.4 636.6 381.8 627.6 377.2 625.1 375.6 624.8 374.6 625 371.6 625.6 370.5Z"/>
</g>
<g fill="none" stroke="#000" stroke-width="1.0" mask="url(#m)">
<path d="M828.6 785.6 824.6 786.8 809.2 796.6 805.6 799.4 805.2 801.6M83.9 801.6 83.6 798.6 82.2 794.6 75.6 779.3 68.1 774.6 64.6 774.6"/>
<path d="M828.6 751.2 825.6 752 816.6 760 811.6 763.4 792.6 771.2 766.4 779.6 733.3 792.6 724.6 798.6 723.6 799.6 723.4 801.6M147.4 801.6 147.2 799.6 146.2 797.6 130.8 778.6 97.6 754.2 85 743.6 69.9 736.6 67.6 735.9 64.6 735.8"/>
<path d="M828.6 726.1 825.6 726.4 823.6 729.4 808.6 743.9 794.6 755 790.6 757.3 765.6 767.4 699.6 782.1 674 798.6 673.1 799.6 672.7 801.6M277 801.6 276.2 799.6 271.4 797.6 237.6 787.2 212.2 778.6 163.6 770.4 160.6 769.1 158.6 769 119.4 742.6 84.9 724.6 68.6 718 64.6 717.5"/>
<path d="M64.6 224 66.9 223.6 68.6 221.8 80 202.6 82.9 176.6 93.6 128.4 101.1 87.6 101.4 38.6M828.6 712.7 826.6 713 822.6 714.9 816.7 719.6 807.6 724.4 804.6 726.9 802.4 727.6 796.2 732.6 768.6 747.8 732.6 760.6 709.6 765.4 702.6 765.6 700.6 766.4 698.6 766.3 656.6 777.7 653.6 778.9 640.6 786.3 635.6 787.9 541.6 788.4 455.6 789.8 440.7 787.6 351.6 778.6 332.6 777.4 322.6 775.9 320.6 775.2 314.6 775.4 256.6 768.8 211.6 762.6 187.6 756.3 162.6 751.2 159.6 749.8 143.6 738.4 121.6 726.7 76.6 706.3 75.8 705.6 72.9 699.6 68.6 688.5 66.6 686.4 64.6 686.5"/>
<path d="M64.6 313.5 67.2 312.6 68.6 309.4 83 251.6 92.6 226.6 95.2 221.6 107.2 206.6 109.4 202.6 110.4 199.6 112.6 179.6 126 134.6 135.8 95.6 137.6 41.6 137.6 40.6 136 38.6M828.6 662.2 825.6 662.9 821.3 678.6 815.6 694.4 811.4 701.6 809.9 705.6 807 709.6 775.6 729.9 762.6 737.6 732.6 748.9 699.6 755 638.6 769.3 541.6 770 447.6 769.6 348.6 765.6 313.6 761.5 254.6 752.2 191.6 741.4 157.6 730.6 124.6 714.1 107.7 706.6 104.9 704.6 103.6 704.4 86.7 672.6 84.9 670.6 84.7 668.6 75.1 633.6 71.7 611.6 70.1 592.6 67.6 585.6 66.6 584.7 64.6 584.7"/>
<path d="M828.6 647.5 823.6 652.6 817.6 654.8 812.6 666.5 809.6 678.8 799.2 693.6 786.9 709.6 784.6 712.1 769.6 722.5 750.6 732 733.6 737.2 706.6 742.2 703.6 742.3 636.6 757.2 579.6 758.6 573.6 757.9 541.6 758.4 455.6 757.9 350.6 753.3 335.6 751.9 318.6 749 256.6 740.1 210.6 731.6 160.6 717.1 136.6 705.3 116.9 676.6 107.6 658.6 101.6 643.6 99.2 635.6 94.7 611.6 93.2 591.6 92.5 587.6 78.1 562.6 77.7 548.6 74.6 511.9 73 479.6 73.1 448.6 74.2 426.6 77.4 383.6 81.2 353.6 87.6 322.6 96.2 296.6 97.1 293.6 97 291.6 99 286.6 106.3 262.6 118.9 230.6 121.3 228.6 131.9 215.6 142.8 200.6 142.5 198.6 143.9 180.6 162.4 134.6 171.5 98.6 174.2 45.6 174.1 38.6"/>
<path d="M828.6 609.4 820.3 641.6 813.4 650.6 803.2 660.6 799.1 672.6 791.4 689.6 783.2 702.6 780.1 705.6 768.6 713.5 745.6 724.4 732.6 729.2 705.6 732.6 637.6 745.9 541.6 747.1 447.6 746.3 348.9 741.6 256.6 727.1 213.6 718.1 191.6 713.4 174.2 706.6 169.6 703.9 141.9 670.6 141.5 668.6 132 651.6 125.5 632.6 120.9 612.6 119.5 592.6 118.4 587.6 115.5 582.6 100.9 562.6 101.2 559.6 98.6 540.6 95.6 499.5 93.8 465.6 95.1 423.6 94.8 420.6 96.7 413.6 100 382.6 105.4 354.6 113.1 325.6 124.4 292.6 135.1 268.6 147.6 246.6 159.2 223.6 171.7 209.6 173.6 206.6 175.6 205.5 177.9 202.6 177.3 186.6 179.2 171.6 178.6 169.6 178.8 167.6 182.3 162.6 199.3 128.6 199.8 125.6 201.9 123.6 216.6 99.6 222.3 91.6 222.5 89.6 226.7 81.6 226.6 80.6 228.2 78.6 236.7 38.6"/>
<path d="M828.6 516.9 820.4 546.6 820.8 570.6 819.2 600.6 813.6 623.6 808.1 641.6 800.4 651.6 791.5 660.6 784.5 677.6 774.4 694.6 766.7 704.6 764.2 706.6 756.6 710.7 733.6 720.4 705.6 723.4 636.6 735.4 577.6 735.1 570.6 736.2 506.6 736.2 444.6 735.3 380.6 732.4 349.6 730.2 322.6 726.2 319.6 725.3 257.6 718.5 213.3 707.6 204.6 705.1 203.6 704.3 201.7 701.6 189.6 688.3 186 681.6 182.6 678.6 179.6 674.9 176.6 672.7 174.6 672.7 172.7 670.6 171.3 666.6 160.6 646.9 148.6 615.4 147.2 609.6 146.5 592.6 145.3 587.6 141.9 582.6 127.6 565.3 125.6 563.9 124.8 562.6 125.1 558.6 115.5 464.6 116.1 416.6 117 414.6 119.3 398.6 122.2 383.6 128.7 354.6 137.9 325.6 152.7 287.6 158.6 273.8 169.6 255.1 182.6 234.8 191.2 222.6 199.6 214.8 201.6 214.6 209.6 211.8 212.6 209.9 214.6 210 223.6 206.8 226.9 203.6 227.2 201.6 229.1 198.6 230 195.6 230.3 189.6 229.4 185.6 229.6 182.6 230.5 180.6 244.7 163.6 271.6 136.6 273.1 133.6 279.3 125.6 289 104.6 297.6 89 306.6 65.8 313.6 43.6 314.1 38.6"/>
<path d="M828.6 470.8 820.5 514.6 811.7 545.6 811.2 572.6 808.7 600.6 802.4 622.6 796.6 639.6 795.2 642.6 789.1 650.6 780.5 659.6 770.6 682.8 760.2 694.6 758.6 697.2 749.8 705.6 733.6 713.3 635.6 724.8 541.6 726.3 448.6 725.5 349.6 721.5 246.8 705.6 242 702.6 224.6 687.6 213.6 677.2 205.6 668.8 203.6 668.6 202.6 667.6 202 665.6 190.9 644.6 177.3 612.6 175.8 610.6 176.3 606.6 174.7 585.6 153.6 565.4 151.6 564 150.6 562.6 149.1 540.6 142.5 495.6 139.4 464.6 140.1 422.6 142.7 397.6 147.2 376.6 154.6 349.8 164.9 322.6 177.7 295.6 187.6 276.7 197.6 259.6 198.6 256.3 200.6 254.8 202.6 254.3 238.6 229.5 268.6 217.6 275.6 213.1 278.6 211.9 284.7 206.6 286.6 202.8 290.6 200.8 293.8 197.6 294.3 191.6 293.1 188.6 294.6 185.6 295.5 176.6 316.2 141.6 326.4 119.6 326.8 116.6 329.4 112.6 329.8 109.6 332 106.6 332.8 104.6 332.8 102.6 335.2 99.6 350.1 71.6 351.1 67.6 354.1 65.6 365.6 54.5 377.6 44.6 380.7 41.6 381.6 38.6"/>
<path d="M828.6 434.4 824 450.6 812.7 513.6 804.8 537.6 802.7 545.6 801.1 578.6 798.5 598.6 796.6 605.8 790.7 623.6 783.5 641.6 777 650.6 768.6 660.6 764.2 671.6 758.3 681.6 745.5 696.6 736.6 703.8 732.6 706.2 696.6 709.9 638.6 716.9 623.2 717.6 575.6 718.3 541.6 718.4 447.6 716.9 351.6 711.5 323.4 708.6 300.6 705.2 279.6 698.9 274.6 696.6 264 689.6 255.3 678.6 251.6 676.7 246.6 672.8 227.2 649.6 214.9 629.6 207.8 610.6 204.9 586.6 203.6 585.1 200.6 583.6 191.5 575.6 189.6 572.6 186.6 570.7 181.1 565.6 178.6 562.3 176.4 557.6 171.2 532.6 163.5 463.6 165.7 418.6 168.9 394.6 173.8 369.6 179.6 352.3 187.5 334.6 187.7 331.6 188.6 330.1 190.6 328.6 194.6 320.8 196.6 314.6 196.7 311.6 198.3 308.6 202.6 305.9 214.6 295.1 216.6 292.2 219.6 290.9 221.6 288.6 224.6 287.4 244.6 271.9 272.6 255 276.6 252 293.1 235.6 302.6 224.7 306.6 221 307.6 220.3 309.6 220.3 315.6 218.4 317.6 216 334.6 206.7 336.6 204.6 339 199.6 338.9 192.6 337.7 187.6 338.6 179.6 339.6 177.3 341.6 175.5 345.5 168.6 345.7 166.6 347.4 164.6 350.4 158.6 351.6 157.1 354.6 156.1 382.6 133.1 384.6 130.1 386.6 129.1 389.6 124.4 391.7 122.6 400.6 107.5 401.5 105.6 401.5 103.6 403 101.6 406.1 92.6 409.6 84.8 424.3 42.6 425 38.6"/>
<path d="M828.6 414.4 826.6 416.9 824.2 421.6 816.8 450.6 804.8 513.6 800.7 525.6 795.9 537.6 794 544.6 791.3 579.6 788 598.6 785.9 605.6 778.9 624.6 771.2 641.6 757.8 659.6 751.4 672.6 744.2 683.6 738.6 690.6 732.6 694.2 704.6 698.1 661.6 705.4 636.8 708.6 574.6 709.7 542.6 709.7 446.6 707.9 413.6 704.8 388.6 699.8 348.6 694.1 318.6 684.1 315.6 682.3 297.6 675.2 277.6 664.8 274.3 663.6 272.6 660.7 259.6 646.5 248 630.6 236.8 610.6 237.1 608.6 235.6 592.6 236 589.6 235.6 586.6 205.6 564 204.6 562.6 204.6 560.6 199.9 542.6 193.9 509.6 192.6 504.6 190.2 488.6 188.9 484.6 189.1 482.6 188 478.6 188.3 476.6 187.5 468.6 190.2 422.6 189.9 416.6 190.9 414.6 199.2 380.6 207 361.6 219.2 343.6 220.6 340.7 222.3 339.6 237.2 323.6 256.6 310.1 270.8 301.6 277.9 295.6 279.6 292.7 282.8 289.6 289.6 284.6 311.5 262.6 314.9 252.6 314.8 250.6 315.5 248.6 320.6 243.3 323.5 241.6 336.5 229.6 351.6 221.3 377.6 212.9 389.6 209.8 398.6 205.1 402 199.6 399.3 185.6 397.3 182.6 397.6 181.6 400.6 176.8 405.2 166.6 406.2 165.6 406.6 164.6 405.7 162.6 407.2 158.6 414.6 144.5 423.1 124.6 443.9 84.6 450.6 69.7 463.5 43.6 464.6 40.6 464.3 38.6"/>
<path d="M828.6 402.6 826.6 404.9 821.6 413 817.8 419.6 816.7 422.6 809.6 450.6 797 512.6 792.3 525.6 787 537.6 785.1 544.6 781.6 579.6 775.9 603.6 767.4 624.6 758.9 641.6 746.2 659.6 739.6 672.8 735.6 677.4 730.6 680.4 704.6 683.4 643.6 691.9 543.6 694.2 520.6 693.5 503.6 691.1 449.6 685.3 446.6 685.4 395.6 676.8 391.6 675 379.6 672.5 350.6 665 324.6 652.8 318.6 649.4 316.6 647.5 314.6 647 286.6 632.2 282.5 629.6 277.6 625.4 269.6 614.6 267.6 613 266.3 610.6 266.8 606.6 265.6 592.6 266 589.6 265.6 586.6 232.6 563.6 231.7 562.6 231.3 560.6 226 548.6 226.3 546.6 225.2 541.6 217.9 516.6 211.8 469.6 214.7 441.6 217.8 423.6 217.6 420.6 218.4 418.6 222.5 411.6 230.3 390.6 240.8 372.6 259.6 352 272.6 342.6 275.6 339.8 294.9 313.6 308.6 296.6 313.4 289.6 314.6 288.8 317.6 288.5 320.6 286.3 353.2 251.6 389.6 231 414.6 215.4 422.6 209.1 424.6 206.9 427.1 205.6 429.1 200.6 428.5 185.6 427.5 182.6 427.7 180.6 431.2 174.6 435.8 163.6 438 160.6 442 149.6 441.9 147.6 443.5 143.6 445.6 141.2 448.6 140.1 452.6 136.6 465.3 124.6 492.8 88.6 498.1 79.6 503.9 66.6 508.4 51.6 512.4 41.6 512.3 38.6"/>
<path d="M781 38.6 781.1 40.6 786.6 55.2 790.9 70.6 796 99.6 801.4 120.6 806 141.6 811 170.6 811.8 178.6 811.5 182.6 806.1 195.6 803.1 199.6 801.3 204.6 802.2 206.6 805.8 210.6 808.6 212.6 812.7 217.6 817.6 225.6 819.1 231.6 820.6 233.1 821.3 234.6 822.7 243.6 826.4 282.6 828.6 292.9M828.6 390.5 826.6 392.8 819.2 404.6 809.9 421.6 802.3 450.6 789 512.6 784.8 523.6 778.1 537.6 777.2 540.6 775.8 546.6 771.9 579.6 765.6 602.6 756.4 623.6 748.4 638.6 735.6 658.3 733.6 660.6 731.6 661.8 722.6 663.2 695.6 665.2 637.6 671 570.6 671.2 539.6 670.5 450.6 658 448.6 656.8 446.6 656.9 444.6 656 442.6 656.2 384.6 642 354.6 633.8 348.6 631.5 322.6 616.4 320.2 615.6 314.3 611.6 313.4 609.6 314.2 605.6 313.7 602.6 314.3 599.6 314 589.6 313.3 587.6 307.6 584.7 301.6 582.3 298.6 581.7 277.6 572.6 259.6 562.6 259 560.6 252.7 548.6 250.6 540.6 241.2 516.6 237.4 468.6 237.8 463.6 242.6 441.6 249.6 420.6 251 417.6 254.5 412.6 263.1 397.6 276.6 379.3 289.8 352.6 304.6 334.8 314.7 323.6 320.5 315.6 342.9 293.6 346.6 289.6 350.9 283.6 390.6 260.6 419.6 229.2 444.8 209.6 453.6 207.1 457.6 206.5 461.6 204.3 463.6 202.1 466.4 200.6 467.1 198.6 466.9 190.6 467.7 185.6 467.3 181.6 469.6 179.1 472.6 177.6 484.3 167.6 486 164.6 489.1 162.6 501.7 148.6 502.6 146.6 503.6 145.6 505.6 144.9 515.3 136.6 520.6 130.5 540.3 98.6 540.6 96.6 543.6 94.1 551.6 83.9 569.3 49.6 572.1 41.6 571.7 38.6"/>
<path d="M637.2 69.6 638.6 69.2 656.6 69.1 658.6 69.3 661.6 70.4 718.6 70.5 725.6 70.4 727.6 69.3 729.6 69.1 731.6 69.7 732.6 70.6 733.6 72.5 736.6 75.5 745.8 91.6 757 115.6 764.5 134.6 777.6 171.6 779.3 178.6 779.7 182.6 779.1 187.6 776.8 197.6 775.6 199.6 774.8 204.6 775.6 206 780.6 209.4 786.7 214.6 797.3 226.6 799.6 229.8 802.6 237.6 806.2 250.6 813 282.6 822.9 323.6 824.6 339.6 827 354.6 826.9 373.6 823 385.6 811.6 404.6 803 420.6 795.3 449.6 788.3 482.6 781.1 512.6 775.5 525.6 768.8 538.6 766.9 546.6 762.2 579.6 756.1 599.6 750.9 611.6 744.5 624.6 737.6 636.4 734.6 640.8 731.6 642.9 724.6 643.5 712.6 643.5 708.6 642.8 701.6 642.8 699.6 643.6 698.6 644.6 692.6 645.7 637.6 648.9 590.6 650.4 574.6 648.9 540.6 648.8 525.6 646.6 513.6 643.1 448.6 631.5 403.2 619.6 385.6 612.8 382.6 610.8 380.6 611.1 378.6 610.1 375.7 607.6 371.2 596.6 370.2 592.6 368 588.6 365.6 586 361.6 584.6 356.6 584 350.6 582.2 323.7 572.6 301.5 562.6 297.6 560.3 283.2 546.6 275.4 537.6 273 535.6 272.6 533.6 265.7 519.6 263.9 517.6 264.3 514.6 262.9 494.6 265.2 467.6 273.6 440.7 277.6 425.6 279.3 416.6 287.4 395.6 298.4 376.6 311.2 357.6 322.6 343.7 347.3 316.6 350.8 313.6 383.6 292.4 406.6 269.3 415.3 257.6 422.6 249 431.9 239.6 442.2 230.6 443.8 227.6 444.6 227 450.6 225.9 516.6 209.1 525.6 205.6 531.1 202.6 536.2 193.6 534.6 183.6 535.1 181.6 549.6 168.2 551.6 165 555.6 163 571 147.6 585.6 134.2 625.6 87.6 627.8 82.6 635.9 70.6Z"/>
<path d="M637.1 151.6 645.6 151.2 649.6 152.3 727.6 152.5 730.6 151.4 732.6 152.2 742.7 168.6 748.2 180.6 748.4 192.6 748.1 196.6 746.9 200.6 747.7 203.6 750.6 208 767.6 218.9 778.6 229.6 786.1 243.6 790.5 254.6 796.2 271.6 805.6 300.4 813 325.6 818 355.6 818.7 371.6 818.3 374.6 814.7 385.6 804 404.6 795.9 420.6 788.1 449.6 780.7 482.6 773.1 512.6 767.1 525.6 759.8 538.6 758 546.6 752.2 580.6 743.9 603.6 735.6 619.8 732.6 623 730.6 623.7 705.6 624.3 692.6 625.6 637.6 626.5 580.6 625.8 569.6 626.2 539.6 624.7 454.6 606.6 446.6 604.5 427.6 594.1 413.6 582.8 400.6 567.4 395.6 565 392.8 562.6 390.6 561.6 387.6 561.4 357.6 563.7 353.6 563.5 350.6 564.2 347.6 563.3 327.6 546.1 319.8 535.6 307.6 526.2 299.4 517.6 297.6 516.5 296.3 514.6 296.5 511.6 293.7 494.6 292.2 469.6 297.3 425.6 297.4 420.6 298.8 415.6 307.6 395.6 316.8 382.6 321.1 374.6 323.1 372.6 334.6 357.5 337.6 352.7 340.2 350.6 348.6 341 372 325.6 391 311.6 401.8 298.6 404.9 296.6 406.3 293.6 409.6 290.4 422.6 272 442.1 253.6 444.6 249.8 448.6 249.1 535.4 223.6 568.6 212.9 583.6 209.1 587.6 208.8 592.6 206.9 594.6 207 598.6 205.5 604.2 198.6 604.3 192.6 603.2 183.6 604.3 180.6 629.6 158.7 630.8 156.6 633.6 153.9Z"/>
<path d="M637.5 210.6 640.6 211 731.6 211.1 735.6 213.3 749.6 223.9 761.6 234.3 764.9 238.6 769.1 245.6 776.2 259.6 790.6 292.6 802.8 325.6 809 355.6 810.3 371.6 810 374.6 806.5 385.6 796.6 404.1 788.7 420.6 765.1 512.6 758.7 525.6 750.9 538.6 742.7 579.6 736.6 595.7 733.6 601.2 731.4 602.6 721.6 603.5 638.6 604 580.6 602 569.6 602.1 539.6 600.7 450.6 575.6 448.3 575.6 447 574.6 446.6 573.3 438.6 568.2 433.6 564.1 432.6 562.6 432.6 560.6 434 557.6 433.6 554.6 436.4 547.6 436.3 543.6 435.6 542.8 426.6 537.1 412.6 531.2 409.6 529.2 407.6 529.3 388.6 525.1 360.6 526.4 355.6 527.2 351.6 527.2 349.6 526.3 346 522.6 345.1 520.6 341 516.6 338.6 513.4 328.2 495.6 326.1 490.6 318.4 465.6 315.1 422.6 316.5 420.6 321 409.6 343.6 373 352 364.6 359.6 358.6 364.6 353.6 380.3 343.6 384.1 340.6 386.7 337.6 389.6 336.9 392.6 334.3 394.7 331.6 395.8 327.6 415.6 303.1 424.6 293.4 442 276.6 444.5 272.6 445.6 272 448.6 271.4 493.6 253.7 515.6 248.3 565.6 231.2 573.6 227 576.6 226.9 618.6 216.2 628.6 214.3Z"/>
<path d="M636.7 226.6 638.6 226.1 641.6 226.7 694.6 226.7 697.6 226.1 701.6 226.8 731.6 226.6 732.6 227.2 746.4 239.6 752.6 247.6 759.1 257.6 768.2 273.6 780.6 297.6 789.1 316.6 793.4 328.6 799.9 355.6 801.9 371.6 801.5 375.6 798.2 385.6 789.2 403.6 781.5 420.6 765 484.6 757.2 512.6 750.3 525.6 742.4 537.6 735.6 568.1 733.6 572.6 729.6 577 728.6 577.8 725.6 578.5 713.6 579.1 704.6 578.8 702.6 579.3 693.6 579.6 637.6 579.6 544.6 575.4 537.6 574.3 499.6 563.3 498.1 561.6 498 560.6 500.2 556.6 500.9 552.6 500.8 549.6 502.1 546.6 502 545.6 501 543.6 496.6 539.8 483.6 536.9 479.6 537 476.6 536.4 449.6 530.1 445.6 528.7 418.8 514.6 414.6 511.1 400.2 495.6 395.3 489.6 394 486.6 389.6 481.1 387.6 480.5 380.6 479.9 377.6 480.3 366.6 479.1 363.6 477.6 360.6 478.4 355.6 478.2 352.6 476.8 350.6 477 349.6 476.3 347.1 471.6 343.6 462.6 343.6 459.6 338 440.6 334.2 424.6 333.1 422.6 334 418.6 335.6 416.7 343.6 403.1 351.6 392.5 362.6 384.3 374.2 372.6 387.4 362.6 395.6 353.3 415.1 324.6 428.6 306.6 444.6 290.6 445.6 289.9 450.6 289.5 489.9 277.6 532.1 263.6 565.6 250.6 568.6 249 576.6 247.1Z"/>
<path d="M636.6 245.6 637.6 245.1 640.6 245.5 727.6 245.7 730.6 245.1 732.9 245.6 737.6 250.8 744.6 260 753.9 273.6 764.6 290.9 776.4 312.6 783 327.6 790.9 355.6 793.5 371.6 793.2 375.6 790 385.6 781.6 403.5 774.4 420.6 758.6 480.2 749.2 512.6 741.6 526.1 733.6 537 732.4 537.6 727.6 538.2 700.6 538.5 665.6 539.8 578.6 536.2 549.6 534.3 539.6 533.4 478.6 523.3 454.6 516.6 447.6 515.4 446.2 514.6 444.9 512.6 444.9 508.6 434 496.6 419.9 479.6 398.6 444.9 391.6 436.6 390.3 433.6 386.6 431.8 383.6 431.6 375.6 428.4 371.6 427.9 364.6 425.8 358.6 423.7 356.9 422.6 356.6 420.6 357.6 418.7 369.6 414.9 375.6 412.1 378.6 411.4 388.6 404.8 389.6 401.6 391.6 398 395 386.6 402.5 365.6 411.6 353.3 418.5 340.6 424.6 331.3 436.6 314.9 446.1 308.6 447.6 306.2 451.6 305.4 508.6 288.3 538.6 280.7 560.9 273.6 567.6 271 569.9 270.6 571.6 268.5 577.6 266.1 620.6 251.1 630.6 248.4Z"/>
<path d="M637.4 265.6 731.6 265.6 735.6 268.7 737.6 271.1 755.2 295.6 766 313.6 773.3 328.6 781.9 355.6 784.5 367.6 785.1 374.6 781.8 385.6 767.2 420.6 752.3 475.6 741.6 511.6 739.7 515.6 734.6 523.5 731.7 525.6 727.6 526.2 637.6 526.3 578.6 523.3 541.4 520.6 515.8 515.6 512.9 514.6 492.5 504.6 447.6 480.7 446.3 477.6 435.8 464.6 430.9 456.6 417.1 433.6 413 425.6 411.2 420.6 412 408.6 412.2 374.6 413.2 371.6 424.3 355.6 426.9 349.6 432.6 339.7 439.6 331.4 445.6 326.3 449.3 324.6 551.6 291.9 556.6 290.5 560.6 290.3 564.6 289.3 571.6 286 578.6 284.5Z"/>
<path d="M636.4 283.6 728.6 283.5 731.6 283.1 732.9 283.6 736.6 287.5 748 302.6 755.7 314.6 763.2 328.6 772.8 355.6 775.7 366.6 776.8 374.6 773.9 384.6 760.1 420.6 746.9 468.6 736.6 502.4 734.6 507.4 730.8 511.6 727.6 512.6 721.6 513 662.6 513.7 637.6 512.9 603.6 509.3 577.6 505.4 572.6 503.2 542.6 498.4 491.4 474.6 479.6 467.6 446.6 444.2 439.1 433.6 435.2 424.6 431.6 418.8 427.2 377.6 428.3 369.6 439.9 354.6 442.1 349.6 444.5 347.6 447.6 343.6 450.6 342.1 452.6 341.9 472.6 334.8 508.6 320.8 543.4 309.6 568.6 301.7 582.6 299.3Z"/>
<path d="M637.5 298.6 725.6 298.5 732.6 299.1 735.6 301.7 742.6 311.2 753.1 328.6 763.8 355.6 767.2 366.6 768.5 374.6 765.6 384.6 752.9 420.6 735.6 481 733.6 484.5 729.6 488.1 720.6 489.2 637.6 489.1 575.6 478 544.6 469.7 539.6 467.5 523.1 456.6 500.6 443.1 475.6 426.5 461.6 418.1 459.6 417.8 458.6 417.2 456.8 413.6 448.1 400.6 446.6 396.6 443.1 380.6 441.5 375.6 442 370.6 445.6 365.9 447.6 364.5 458.6 360.3 468.5 355.6 475.6 353.9 508.6 340.8 542.6 329.8 570.6 318.5Z"/>
<path d="M636.9 313.6 724.6 313.2 730.6 313.6 732.6 314.1 734.6 315.7 741.3 325.6 745.4 333.6 754.6 355.1 758.6 366.6 760.2 374.6 745.8 420.6 735.6 456.3 733.6 460 729.6 463.9 720.6 465.2 636.6 465 595.6 456.5 570.8 447.6 544.6 440.3 540.6 438.4 524.6 426.1 512 418.6 509.6 418.6 508.6 418 506.6 414.6 481.7 386.6 477.5 380.6 476.7 377.6 474.6 376.1 473.9 372.6 475.6 369.9 491.6 363.3 500.6 360.5 503.6 358.7 509.6 357.5 540.7 346.6 569.6 335.8 580.6 332.6Z"/>
<path d="M635.5 329.6 640.6 328.8 724.6 328.8 731.6 329.4 733.6 330.8 736.6 335.7 745.8 355.6 750.1 366.6 751.9 374.6 735.6 431.1 733.6 435 730.6 438.5 728.6 439.6 720.6 440.4 636.6 440.1 568.6 418.9 563.2 416.6 554.6 412.2 543 403.6 525.9 387.6 515.8 374.6 515.8 372.6 517.6 369.9 536.6 362.9 542.6 361.6 572.6 351.2 574.6 351.2 580.6 349.5Z"/>
<path d="M636.2 348.6 640.6 348 723.6 348 731.6 349.1 734.6 351.9 736.6 355.3 741.5 366.6 743.6 374.6 734.6 406.3 728 413.6 719.6 414.5 638.6 413.5 634.6 412.4 613.6 403.3 589.6 391.1 579.6 385.1 577.6 382.8 575.6 382.6 571.6 380.3 565 374.6 564.9 373.6 565.6 372.9 578.6 366.8 596.6 360.9 600.6 360.4Z"/>
<path d="M635.7 367.6 640.6 367 729.6 367.2 731.7 367.6 732.9 368.6 734 370.6 735 374.6 734 378.6 732.6 381.2 729.6 382.2 639.6 382.4 636.6 381.8 627.6 377.2 625.1 375.6 624.8 374.6 625 371.6 625.6 370.5Z"/>
</g>
<polyline points="65.6,230 84.7,230 103.7,230 122.8,172.9 141.9,161.9 160.9,157.2 180,52 199.1,39.6 218.2,53.9 237.2,152.9 256.3,148.1 275.4,149.1 294.4,143.8 313.5,123.9 332.6,119.1 351.6,119.1 370.7,119.1 389.8,125.3 408.9,139.6 427.9,152.9 447,148.1 466.1,125.3 485.1,114.8 504.2,111 523.3,105.8 542.4,95.8 561.4,100.5 580.5,105.3 599.6,100.5 618.6,95.8 637.7,105.3 733.1,105.3 752.1,67.7 771.2,62.9 790.3,62.9 809.3,58.6 828.4,53.9" fill="none" stroke="#0000ff" stroke-width="3.6" stroke-linejoin="round"/>
<polyline points="65.6,472.8 84.7,468 237.2,468 256.3,515.6 275.4,515.6 313.5,420.4 408.9,420.4 427.9,372.8 828.4,372.8" fill="none" stroke="#ffffff" stroke-width="3.6" stroke-linejoin="round"/>
<polyline points="65.6,682.2 103.7,682.2 122.8,687 199.1,687 237.2,696.5 294.4,696.5 313.5,691.7 332.6,696.5 351.6,691.7 370.7,691.7 389.8,696.5 485.1,696.5 504.2,691.7 542.4,691.7 580.5,682.2 656.8,682.2 733.1,663.2 752.1,667.9 790.3,667.9 809.3,677.4 828.4,620.3" fill="none" stroke="#ff0000" stroke-width="3.6" stroke-linejoin="round"/>
<g font-size="16.6" font-weight="bold" fill="#000" text-anchor="middle" dominant-baseline="central"><text transform="translate(101.3 65.6) rotate(-89.7)" y="0.9">4</text><text transform="translate(289.5 103.6) rotate(-43.2)" y="0.9">8</text><text transform="translate(401.5 103.6) rotate(-49.2)" y="0.9">10</text><text transform="translate(504.6 64.5) rotate(-54.7)" y="0.9">12</text><text transform="translate(629.9 79.6) rotate(-38.2)" y="0.9">14</text><text transform="translate(749.6 99.5) rotate(46.3)" y="0.9">14</text><text transform="translate(131.1 216.6) rotate(-32.1)" y="0.9">6</text><text transform="translate(191.2 222.6) rotate(-29.1)" y="0.9">8</text><text transform="translate(302.6 224.7) rotate(-22)" y="0.9">10</text><text transform="translate(414.6 215.4) rotate(-19.1)" y="0.9">12</text><text transform="translate(531.8 201.6) rotate(-28.4)" y="0.9">14</text><text transform="translate(628.6 214.3) rotate(-8.4)" y="0.9">16</text><text transform="translate(749.6 223.9) rotate(21.7)" y="0.9">16</text><text transform="translate(414.6 258.6) rotate(-32.8)" y="0.9">14</text><text transform="translate(506.6 250.4) rotate(-7.1)" y="0.9">16</text><text transform="translate(630.6 248.4) rotate(-9.7)" y="0.9">18</text><text transform="translate(749.1 266.6) rotate(36.3)" y="0.9">18</text><text transform="translate(707.6 283.3) rotate(0)" y="0.9">20</text><text transform="translate(811.8 276.6) rotate(66.1)" y="0.9">14</text><text transform="translate(508.6 288.3) rotate(-7.9)" y="0.9">18</text><text transform="translate(585.6 298.5) rotate(-7.4)" y="0.9">20</text><text transform="translate(704.6 313.2) rotate(-0)" y="0.9">22</text><text transform="translate(194.2 321.6) rotate(-48.6)" y="0.9">10</text><text transform="translate(302.6 304.1) rotate(-32.2)" y="0.9">12</text><text transform="translate(393.6 333.3) rotate(-28.9)" y="0.9">16</text><text transform="translate(463.6 338) rotate(-10.1)" y="0.9">20</text><text transform="translate(582.6 332) rotate(-8.9)" y="0.9">22</text><text transform="translate(615.6 355.3) rotate(-9.4)" y="0.9">24</text><text transform="translate(736.7 355.6) rotate(35.2)" y="0.9">24</text><text transform="translate(307.4 363.6) rotate(-35.8)" y="0.9">14</text><text transform="translate(398.9 375.6) rotate(-53.9)" y="0.9">18</text><text transform="translate(480.6 384.9) rotate(33.2)" y="0.9">22</text><text transform="translate(117.8 408.6) rotate(-72.5)" y="0.9">8</text><text transform="translate(796.6 404.1) rotate(-44.5)" y="0.9">16</text><text transform="translate(758.7 425.6) rotate(-59.2)" y="0.9">20</text><text transform="translate(74.7 420.6) rotate(-80.6)" y="0.9">6</text><text transform="translate(645.6 413.8) rotate(2.1)" y="0.9">24</text><text transform="translate(213.3 454.6) rotate(-77.4)" y="0.9">12</text><text transform="translate(412.6 468) rotate(39.1)" y="0.9">18</text><text transform="translate(323.2 481.6) rotate(57.4)" y="0.9">16</text><text transform="translate(595.6 456.5) rotate(7.9)" y="0.9">22</text><text transform="translate(481.6 469) rotate(17.5)" y="0.9">20</text><text transform="translate(732.6 461.1) rotate(-25.7)" y="0.9">22</text><text transform="translate(765.5 453.6) rotate(-62.7)" y="0.9">18</text><text transform="translate(814.4 431.6) rotate(-62.4)" y="0.9">12</text><text transform="translate(788.3 482.6) rotate(-65.6)" y="0.9">14</text><text transform="translate(816.8 492.6) rotate(-69.8)" y="0.9">10</text><text transform="translate(173.7 544.6) rotate(67.3)" y="0.9">10</text><text transform="translate(288.6 551.7) rotate(26.1)" y="0.9">14</text><text transform="translate(436.4 545.6) rotate(60.5)" y="0.9">16</text><text transform="translate(602.6 509.2) rotate(3.8)" y="0.9">20</text><text transform="translate(662.6 513.7) rotate(0.2)" y="0.9">20</text><text transform="translate(526.6 531.2) rotate(4.8)" y="0.9">18</text><text transform="translate(664.6 539.8) rotate(0.3)" y="0.9">18</text><text transform="translate(821.8 540.6) rotate(-64)" y="0.9">8</text><text transform="translate(150 619.6) rotate(55.2)" y="0.9">8</text><text transform="translate(276.9 624.6) rotate(27.5)" y="0.9">12</text><text transform="translate(403.2 619.6) rotate(9.1)" y="0.9">14</text><text transform="translate(540.6 600.9) rotate(3.8)" y="0.9">16</text><text transform="translate(609.6 603.2) rotate(1)" y="0.9">16</text><text transform="translate(733.9 600.6) rotate(-23.1)" y="0.9">16</text><text transform="translate(101.3 642.6) rotate(55.6)" y="0.9">6</text><text transform="translate(524.6 646.4) rotate(6.5)" y="0.9">14</text><text transform="translate(588.6 650.3) rotate(1.1)" y="0.9">14</text><text transform="translate(712.6 643.5) rotate(0.8)" y="0.9">14</text><text transform="translate(760.5 638.6) rotate(-41.5)" y="0.9">12</text><text transform="translate(396.6 676.9) rotate(6.4)" y="0.9">12</text><text transform="translate(519.6 693.4) rotate(2.7)" y="0.9">12</text><text transform="translate(643.6 691.9) rotate(-2.2)" y="0.9">12</text><text transform="translate(262.9 688.6) rotate(25.6)" y="0.9">10</text><text transform="translate(752.6 688.2) rotate(-31.5)" y="0.9">10</text><text transform="translate(812.6 666.5) rotate(-59)" y="0.9">6</text><text transform="translate(385.2 713.6) rotate(1.7)" y="0.9">10</text><text transform="translate(507.6 717.7) rotate(0.5)" y="0.9">10</text><text transform="translate(631.6 717.2) rotate(-1.6)" y="0.9">10</text><text transform="translate(255.6 718) rotate(6.1)" y="0.9">8</text><text transform="translate(378.6 732.3) rotate(1.8)" y="0.9">8</text><text transform="translate(502.6 736.2) rotate(0.3)" y="0.9">8</text><text transform="translate(626.6 735.4) rotate(-0)" y="0.9">8</text><text transform="translate(745.6 715.3) rotate(-12)" y="0.9">8</text><text transform="translate(91.6 713.4) rotate(12.8)" y="0.9">4</text><text transform="translate(210.5 731.6) rotate(6.8)" y="0.9">6</text><text transform="translate(332.6 751.5) rotate(4.4)" y="0.9">6</text><text transform="translate(455.6 757.9) rotate(0.5)" y="0.9">6</text><text transform="translate(578.6 758.6) rotate(1.1)" y="0.9">6</text><text transform="translate(700.6 743.3) rotate(-5.6)" y="0.9">6</text><text transform="translate(822.6 714.9) rotate(-15.7)" y="0.9">4</text><text transform="translate(91.6 749.1) rotate(23.1)" y="0.9">2</text><text transform="translate(211.6 762.6) rotate(5.5)" y="0.9">4</text><text transform="translate(333.6 777.5) rotate(2.9)" y="0.9">4</text><text transform="translate(455.6 789.8) rotate(2.1)" y="0.9">4</text><text transform="translate(578.6 788.4) rotate(-0)" y="0.9">4</text><text transform="translate(700.6 766.4) rotate(-5)" y="0.9">4</text><text transform="translate(813.9 761.6) rotate(-18.1)" y="0.9">2</text></g>
<g stroke="#262626" stroke-opacity="0.15" stroke-width="4.8" fill="none"><path d="M160.9 39.6V801.2M256.3 39.6V801.2M351.6 39.6V801.2M447 39.6V801.2M542.4 39.6V801.2M637.7 39.6V801.2M733.1 39.6V801.2"/><path d="M65.6 706H828.4M65.6 610.8H828.4M65.6 515.6H828.4M65.6 420.4H828.4M65.6 325.2H828.4M65.6 230H828.4M65.6 134.8H828.4"/></g>
</g>
<path d="M160.9 801.2v-9.1M160.9 39.6v9.1M256.3 801.2v-9.1M256.3 39.6v9.1M351.6 801.2v-9.1M351.6 39.6v9.1M447 801.2v-9.1M447 39.6v9.1M542.4 801.2v-9.1M542.4 39.6v9.1M637.7 801.2v-9.1M637.7 39.6v9.1M733.1 801.2v-9.1M733.1 39.6v9.1M65.6 706h10.1M828.4 706h-10.1M65.6 610.8h10.1M828.4 610.8h-10.1M65.6 515.6h10.1M828.4 515.6h-10.1M65.6 420.4h10.1M828.4 420.4h-10.1M65.6 325.2h10.1M828.4 325.2h-10.1M65.6 230h10.1M828.4 230h-10.1M65.6 134.8h10.1M828.4 134.8h-10.1" stroke="#262626" stroke-width="4.7" fill="none"/>
<rect x="65.6" y="39.6" width="762.8" height="761.6" fill="none" stroke="#262626" stroke-width="4.7"/>
<g font-size="16.5" fill="#262626"><text x="65.6" y="826.2" text-anchor="middle">5</text><text x="160.9" y="826.2" text-anchor="middle">10</text><text x="256.3" y="826.2" text-anchor="middle">15</text><text x="351.6" y="826.2" text-anchor="middle">20</text><text x="447" y="826.2" text-anchor="middle">25</text><text x="542.4" y="826.2" text-anchor="middle">30</text><text x="637.7" y="826.2" text-anchor="middle">35</text><text x="733.1" y="826.2" text-anchor="middle">40</text><text x="828.4" y="826.2" text-anchor="middle">45</text><text x="58.4" y="808.1" text-anchor="end">20</text><text x="58.4" y="713.3" text-anchor="end">40</text><text x="58.4" y="617.3" text-anchor="end">60</text><text x="58.4" y="522.3" text-anchor="end">80</text><text x="59.5" y="427.3" text-anchor="end">100</text><text x="59.5" y="331.4" text-anchor="end">120</text><text x="59.5" y="236.4" text-anchor="end">140</text><text x="59.5" y="140.4" text-anchor="end">160</text><text x="59.5" y="45.4" text-anchor="end">180</text></g>
<text x="447" y="849.8" font-size="18.3" fill="#262626" text-anchor="middle">TWS : Vent en nds</text>
<text transform="translate(22.3 421.2) rotate(-90)" font-size="18.6" fill="#262626" text-anchor="middle">TWA : Angle au vent en °</text>
<text x="446.3" y="31.3" font-size="18.34" font-weight="bold" fill="#000" text-anchor="middle">Vitesse de Louloute en fonction de (TWS,TWA). En blanc Vmax fonction de(TWS)</text>
</svg></body></html>
